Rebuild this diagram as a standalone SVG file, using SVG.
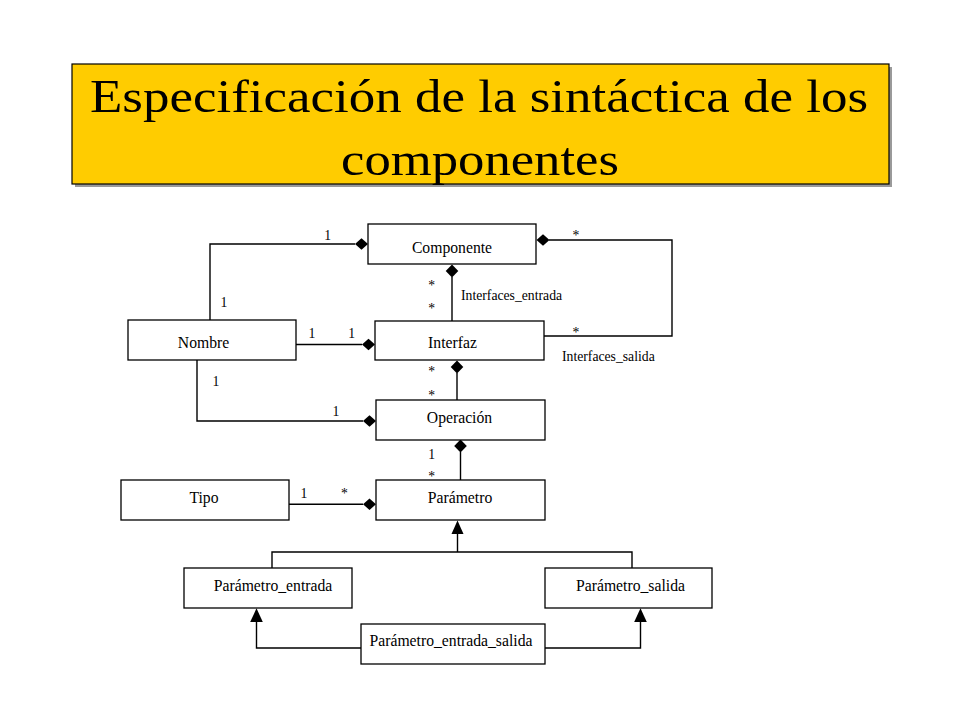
<svg xmlns="http://www.w3.org/2000/svg" width="960" height="720" viewBox="0 0 960 720">
<style>
.bg{fill:#ffffff}
.node rect{fill:#ffffff;stroke:#000000;stroke-width:1.3}
.node text{font-family:"Liberation Serif","Times New Roman",serif;font-size:15.7px;fill:#000000;text-anchor:middle}
.lbl{font-family:"Liberation Serif","Times New Roman",serif;font-size:13.7px;fill:#000000}
.mid{text-anchor:middle}
.ln{fill:none;stroke:#000000;stroke-width:1.4}
.dia{fill:#000000;stroke:none}
.title{font-family:"Liberation Serif","Times New Roman",serif;font-size:46px;fill:#000000}
</style>
<rect class="bg" x="0" y="0" width="960" height="720"/>

<g id="title">
  <rect x="75" y="67" width="817" height="120" fill="#9a9a9a"/>
  <rect x="72" y="64" width="817" height="120" fill="#FFCC00" stroke="#000000" stroke-width="1.2"/>
  <text class="title" x="90" y="112" textLength="778" lengthAdjust="spacingAndGlyphs">Especificación de la sintáctica de los</text>
  <text class="title" x="341" y="175" textLength="278" lengthAdjust="spacingAndGlyphs">componentes</text>
</g>

<g id="connectors">
  <!-- Nombre - Componente -->
  <polyline class="ln" points="210,320 210,244 355,244"/>
  <polygon class="dia" points="355,244 361.5,238.3 368,244 361.5,249.7"/>
  <!-- Componente - Interfaz (Interfaces_entrada) -->
  <line class="ln" x1="452" y1="277" x2="452" y2="321"/>
  <polygon class="dia" points="452,264.5 458.3,271 452,277.5 445.7,271"/>
  <!-- Componente - Interfaz (Interfaces_salida) -->
  <polyline class="ln" points="549,240 672,240 672,336 544,336"/>
  <polygon class="dia" points="536.5,240 543,234.3 549.5,240 543,245.7"/>
  <!-- Nombre - Interfaz -->
  <line class="ln" x1="296" y1="344.5" x2="362" y2="344.5"/>
  <polygon class="dia" points="362,344.5 368.5,338.8 375,344.5 368.5,350.2"/>
  <!-- Interfaz - Operación -->
  <line class="ln" x1="457" y1="373" x2="457" y2="400"/>
  <polygon class="dia" points="457,360.5 463.3,367 457,373.5 450.7,367"/>
  <!-- Nombre - Operación -->
  <polyline class="ln" points="197,358 197,421 363,421"/>
  <polygon class="dia" points="363,421 369.5,415.3 376,421 369.5,426.7"/>
  <!-- Operación - Parámetro -->
  <line class="ln" x1="460.5" y1="452" x2="460.5" y2="480"/>
  <polygon class="dia" points="460.5,439.5 466.8,446 460.5,452.5 454.2,446"/>
  <!-- Tipo - Parámetro -->
  <line class="ln" x1="289" y1="504.3" x2="363" y2="504.3"/>
  <polygon class="dia" points="363,504.3 369.5,498.6 376,504.3 369.5,510"/>
  <!-- Generalization to Parámetro -->
  <polyline class="ln" points="272,568 272,552 632,552 632,568"/>
  <line class="ln" x1="457.5" y1="552" x2="457.5" y2="533"/>
  <polygon class="dia" points="457.5,520.5 463.5,534 451.5,534"/>
  <!-- Parámetro_entrada_salida - Parámetro_entrada -->
  <polyline class="ln" points="361,648 256.5,648 256.5,621"/>
  <polygon class="dia" points="256.5,608.3 262.8,622 250.2,622"/>
  <!-- Parámetro_entrada_salida - Parámetro_salida -->
  <polyline class="ln" points="545,648 640.5,648 640.5,621"/>
  <polygon class="dia" points="640.5,608.3 646.8,622 634.2,622"/>

  <!-- multiplicities -->
  <text class="lbl mid" x="327.7" y="240">1</text>
  <text class="lbl mid" x="224" y="307">1</text>
  <text class="lbl mid" x="312" y="337.7">1</text>
  <text class="lbl mid" x="351.7" y="337.7">1</text>
  <text class="lbl mid" x="216" y="386">1</text>
  <text class="lbl mid" x="336" y="416">1</text>
  <text class="lbl mid" x="431.7" y="459">1</text>
  <text class="lbl mid" x="304" y="498">1</text>
  <text class="lbl mid" x="431.7" y="290">*</text>
  <text class="lbl mid" x="431.7" y="313">*</text>
  <text class="lbl mid" x="576" y="240">*</text>
  <text class="lbl mid" x="576" y="336.6">*</text>
  <text class="lbl mid" x="431.7" y="376">*</text>
  <text class="lbl mid" x="431.7" y="400">*</text>
  <text class="lbl mid" x="431.7" y="480.5">*</text>
  <text class="lbl mid" x="344.3" y="498">*</text>
  <text class="lbl" x="461" y="300">Interfaces_entrada</text>
  <text class="lbl" x="562" y="360.5">Interfaces_salida</text>
</g>

<g id="node-componente" class="node">
  <rect x="368" y="224" width="168" height="40"/>
  <text x="452" y="252.5">Componente</text>
</g>
<g id="node-interfaz" class="node">
  <rect x="375" y="321" width="169" height="39"/>
  <text x="452.5" y="348.3">Interfaz</text>
</g>
<g id="node-nombre" class="node">
  <rect x="128" y="320" width="168" height="40"/>
  <text x="203.5" y="348">Nombre</text>
</g>
<g id="node-operacion" class="node">
  <rect x="376" y="400" width="169" height="40"/>
  <text x="459.5" y="423">Operación</text>
</g>
<g id="node-tipo" class="node">
  <rect x="121" y="480" width="168" height="40"/>
  <text x="204" y="503">Tipo</text>
</g>
<g id="node-parametro" class="node">
  <rect x="376" y="480" width="169" height="40"/>
  <text x="460" y="503">Parámetro</text>
</g>
<g id="node-parametro-entrada" class="node">
  <rect x="184" y="568" width="168" height="40"/>
  <text x="273" y="591">Parámetro_entrada</text>
</g>
<g id="node-parametro-salida" class="node">
  <rect x="545" y="568" width="167" height="40"/>
  <text x="630.5" y="591">Parámetro_salida</text>
</g>
<g id="node-parametro-entrada-salida" class="node">
  <rect x="361" y="624" width="184" height="40"/>
  <text x="451" y="646">Parámetro_entrada_salida</text>
</g>
</svg>
